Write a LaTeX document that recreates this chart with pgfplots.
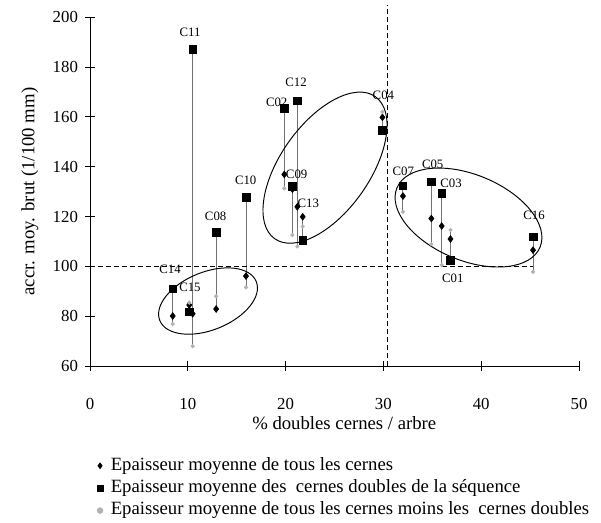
\documentclass[border=0pt]{standalone}
\usepackage{fontspec}
\setmainfont{Liberation Serif}
\usepackage{pgfplots}
\pgfplotsset{compat=1.18}
\usepackage{pgfplotstable}

% tree  x(% doubles)  square  diamond  grey
\pgfplotstableread{
x     sq     di     gr
8.46  91.0   80.1   76.9
10.15 81.8   84.5   85.5
10.5  187.2  81.0   68.0
12.9  113.6  82.9   88.0
15.95 127.7  96.1   91.6
19.87 163.4  136.9  131.3
20.7  132.2  131.0  112.6
21.2  166.4  123.9  108.0
21.75 110.5  119.9  116.0
29.9  154.7  159.8  162.0
32.0  132.3  128.2  121.9
34.9  133.9  119.2  108.9
35.96 129.3  116.2  100.5
36.86 102.5  111.0  114.6
45.3  111.9  106.5  97.8
}\data

\begin{document}
\begin{tikzpicture}
\begin{axis}[
  scale only axis,
  width=305.6pt, height=218.1pt,
  xmin=0, xmax=50, ymin=60, ymax=200,
  xtick={0,10,...,50}, ytick={60,80,...,200},
  axis x line=bottom, axis y line=left,
  axis line style={-, line width=0.6pt},
  tick align=center, major tick length=6pt,
  tick style={black, line width=0.5pt},
  clip=false,
  /pgf/number format/assume math mode=true,
  ticklabel style={font=\fontsize{10.5}{12}\selectfont},
  xticklabel style={anchor=center, yshift=-20.5pt},
  yticklabel style={anchor=east, xshift=-1pt},
  xlabel={\% doubles cernes / arbre},
  ylabel={accr. moy. brut (1/100 mm)},
  label style={font=\fontsize{11.7}{14}\selectfont},
  xlabel style={at={(axis description cs:0.52,-0.1633)}, anchor=center},
  ylabel style={at={(axis description cs:-0.1227,0.5)}, anchor=center},
  unbounded coords=jump,
  legend style={at={(axis description cs:0.0095,-0.256)}, anchor=north west,
    draw=none, fill=none, inner sep=0pt, row sep=1.5pt,
    font=\fontsize{11.7}{14}\selectfont,
    nodes={inner sep=1pt, text height=8pt, text depth=2.5pt},
    /tikz/every odd column/.append style={column sep=2.5pt}},
  legend cell align=left,
  legend image code/.code={\path (-3pt,0pt) (3pt,0pt); \draw[#1, mark size=1.8pt] plot coordinates {(0pt,0pt)};},
]
% vertical connectors
\addplot[forget plot, black!55, line width=0.6pt] coordinates {
(8.46,91.0) (8.46,76.9) (8.46,nan)
(10.15,81.8) (10.15,85.5) (10.15,nan)
(10.5,187.2) (10.5,68.0) (10.5,nan)
(12.9,113.6) (12.9,82.9) (12.9,nan)
(15.95,127.7) (15.95,91.6) (15.95,nan)
(19.87,163.4) (19.87,131.3) (19.87,nan)
(20.7,132.2) (20.7,112.6) (20.7,nan)
(21.2,166.4) (21.2,108.0) (21.2,nan)
(21.75,110.5) (21.75,119.9) (21.75,nan)
(29.9,154.7) (29.9,162.0) (29.9,nan)
(32.0,132.3) (32.0,121.9) (32.0,nan)
(34.9,133.9) (34.9,108.9) (34.9,nan)
(35.96,129.3) (35.96,100.5) (35.96,nan)
(36.86,102.5) (36.86,114.6) (36.86,nan)
(45.3,111.9) (45.3,97.8)
};
% reference lines
\addplot[forget plot, black, line width=0.5pt, dash pattern=on 3pt off 2pt] coordinates {(0,100) (45.3,100)};
\addplot[forget plot, black, line width=0.5pt, dash pattern=on 3pt off 2pt] coordinates {(30.4,60) (30.4,204.8)};

\addplot[only marks, mark=diamond*, mark size=2.1pt, black] table[x=x, y=di] {\data};
\addlegendentry{Epaisseur moyenne de tous les cernes}
\addplot[only marks, mark=square*, mark size=2.4pt, black] table[x=x, y=sq] {\data};
\addlegendentry{Epaisseur moyenne des\ \ cernes doubles de la séquence}
\addplot[only marks, mark=*, mark size=1.1pt, draw=black!30, fill=black!30] table[x=x, y=gr] {\data};
\addlegendentry{Epaisseur moyenne de tous les cernes moins les\ \ cernes doubles}

% ellipses
\draw[line width=0.6pt, rotate around={22:(axis cs:12.07,86.1)}] (axis cs:12.07,86.1) ellipse (32.5pt and 18.1pt);
\draw[line width=0.6pt, rotate around={54.7:(axis cs:24.03,139.6)}] (axis cs:24.03,139.6) ellipse (54.4pt and 27.8pt);
\draw[line width=0.6pt, rotate around={-22.5:(axis cs:38.7,119.6)}] (axis cs:38.7,119.6) ellipse (48.4pt and 26.8pt);

% labels
\begin{scope}[every node/.style={font=\fontsize{8}{9.5}\selectfont, inner sep=0pt}]
\node at (axis cs:10.23,193.9) {C11};
\node at (axis cs:21.07,173.9) {C12};
\node at (axis cs:19.09,166.0) {C02};
\node at (axis cs:30.0,168.7) {C04};
\node at (axis cs:21.13,137.0) {C09};
\node at (axis cs:15.92,134.5) {C10};
\node at (axis cs:22.32,125.3) {C13};
\node at (axis cs:12.85,119.9) {C08};
\node at (axis cs:8.18,98.8) {C14};
\node at (axis cs:10.22,91.8) {C15};
\node at (axis cs:32.04,138.3) {C07};
\node at (axis cs:35.04,140.9) {C05};
\node at (axis cs:36.91,133.3) {C03};
\node at (axis cs:37.09,95.1) {C01};
\node at (axis cs:45.4,120.6) {C16};
\end{scope}

\coordinate (bbl) at (rel axis cs:-0.184,-0.447);
\coordinate (btr) at (rel axis cs:1.045,1.049);
\end{axis}
\pgfresetboundingbox
\path[use as bounding box] (bbl) rectangle (btr);
\end{tikzpicture}
\end{document}
